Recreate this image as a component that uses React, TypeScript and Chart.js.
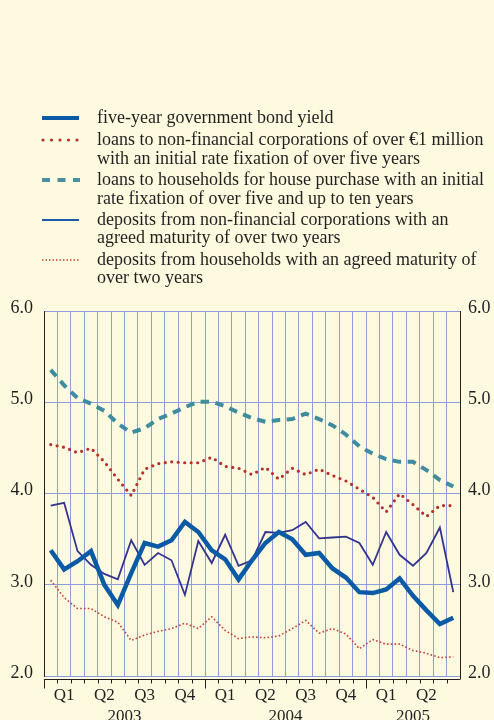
import React, { useEffect, useRef } from "react";
import { Chart, registerables } from "chart.js";

Chart.register(...registerables);

// Monthly observations, January 2003 to July 2005
const months = [
  "2003-01", "2003-02", "2003-03", "2003-04", "2003-05", "2003-06", "2003-07", "2003-08", "2003-09", "2003-10", "2003-11", "2003-12",
  "2004-01", "2004-02", "2004-03", "2004-04", "2004-05", "2004-06", "2004-07", "2004-08", "2004-09", "2004-10", "2004-11", "2004-12",
  "2005-01", "2005-02", "2005-03", "2005-04", "2005-05", "2005-06", "2005-07",
];

const bondYield = [
  3.38, 3.17, 3.26, 3.37, 3.0, 2.78, 3.13, 3.46, 3.42, 3.49, 3.69, 3.58,
  3.38, 3.28, 3.06, 3.27, 3.46, 3.58, 3.5, 3.33, 3.35, 3.18, 3.08, 2.92,
  2.91, 2.95, 3.07, 2.88, 2.72, 2.57, 2.64,
];

const loansNFC = [
  4.54, 4.51, 4.45, 4.5, 4.35, 4.16, 3.98, 4.27, 4.33, 4.35, 4.34, 4.34,
  4.4, 4.3, 4.28, 4.21, 4.29, 4.16, 4.28, 4.21, 4.27, 4.2, 4.14, 4.05,
  3.96, 3.8, 4.0, 3.88, 3.75, 3.87, 3.87,
];

const loansHH = [
  5.36, 5.19, 5.05, 4.99, 4.91, 4.77, 4.67, 4.72, 4.82, 4.88, 4.95, 5.01,
  5.01, 4.96, 4.89, 4.83, 4.79, 4.81, 4.82, 4.88, 4.82, 4.75, 4.65, 4.52,
  4.44, 4.38, 4.35, 4.35, 4.26, 4.15, 4.08,
];

const depositsNFC = [
  3.87, 3.9, 3.37, 3.22, 3.12, 3.06, 3.49, 3.22, 3.35, 3.27, 2.89, 3.48,
  3.24, 3.55, 3.21, 3.27, 3.58, 3.57, 3.6, 3.69, 3.51, 3.52, 3.53, 3.46,
  3.22, 3.58, 3.33, 3.21, 3.35, 3.63, 2.92,
];

const depositsHH = [
  3.05, 2.86, 2.74, 2.74, 2.65, 2.59, 2.39, 2.45, 2.49, 2.52, 2.58, 2.52,
  2.65, 2.5, 2.41, 2.43, 2.42, 2.44, 2.52, 2.61, 2.47, 2.52, 2.46, 2.3,
  2.4, 2.35, 2.35, 2.28, 2.25, 2.2, 2.21,
];

const quarterLabels = ["Q1", "Q2", "Q3", "Q4", "Q1", "Q2", "Q3", "Q4", "Q1", "Q2"];
const yearLabels = ["2003", "2004", "2005"];
const yMin = 2;
const yMax = 6;

const legendLabels = [
  ["five-year government bond yield"],
  ["loans to non-financial corporations of over €1 million", "with an initial rate fixation of over five years"],
  ["loans to households for house purchase with an initial", "rate fixation of over five and up to ten years"],
  ["deposits from non-financial corporations with an", "agreed maturity of over two years"],
  ["deposits from households with an agreed maturity of", "over two years"],
];

const FONT = '"Liberation Serif", "Times New Roman", serif';
const TEXT = "#231f20";
const BG = "#fdfadf";
const GRID = "#8c9ede";

const toPoints = (vals: number[]) => vals.map((v, i) => ({ x: i + 0.5, y: v }));

const overlayPlugin = {
  id: "overlay",
  afterDraw(chart: any) {
    const ctx = chart.ctx;
    const xs = chart.scales.x;
    const area = chart.chartArea;
    ctx.save();

    // legend
    const legendX = 42;
    const legendW = 37;
    const textX = 97;
    const baselines = [[123], [145, 164], [185, 204], [225, 243], [265, 283]];
    ctx.font = `18px ${FONT}`;
    ctx.fillStyle = TEXT;
    ctx.textBaseline = "alphabetic";
    ctx.textAlign = "left";
    legendLabels.forEach((lines, i) => {
      lines.forEach((t, j) => ctx.fillText(t, textX, baselines[i][j]));
    });
    const sy = baselines.map((b) => b[0] - 5);
    // symbol 1: thick solid
    ctx.lineCap = "butt";
    ctx.setLineDash([]);
    ctx.strokeStyle = "#0b5aa6";
    ctx.lineWidth = 4;
    ctx.beginPath();
    ctx.moveTo(legendX, sy[0]);
    ctx.lineTo(legendX + legendW, sy[0]);
    ctx.stroke();
    // symbol 2: dots
    ctx.fillStyle = "#b5302e";
    for (let k = 0; k < 5; k++) {
      ctx.beginPath();
      ctx.arc(legendX + 1 + k * 8.5, sy[1], 1.6, 0, Math.PI * 2);
      ctx.fill();
    }
    // symbol 3: dashes
    ctx.strokeStyle = "#4a8fa0";
    ctx.lineWidth = 4;
    ctx.setLineDash([8, 7.5]);
    ctx.beginPath();
    ctx.moveTo(legendX, sy[2]);
    ctx.lineTo(legendX + legendW + 1, sy[2]);
    ctx.stroke();
    // symbol 4: thin solid
    ctx.setLineDash([]);
    ctx.strokeStyle = "#1f5aa8";
    ctx.lineWidth = 2;
    ctx.beginPath();
    ctx.moveTo(legendX, sy[3]);
    ctx.lineTo(legendX + legendW, sy[3]);
    ctx.stroke();
    // symbol 5: fine dots
    ctx.strokeStyle = "#c0403d";
    ctx.lineWidth = 1.5;
    ctx.setLineDash([1.5, 2]);
    ctx.beginPath();
    ctx.moveTo(legendX, sy[4]);
    ctx.lineTo(legendX + legendW, sy[4]);
    ctx.stroke();
    ctx.setLineDash([]);

    // bottom axis baseline and tick marks
    const baseY = area.bottom + 3.5;
    ctx.strokeStyle = TEXT;
    ctx.lineWidth = 1;
    ctx.beginPath();
    ctx.moveTo(area.left, baseY);
    ctx.lineTo(area.right, baseY);
    for (let k = 0; k <= months.length; k++) {
      const x = Math.round(xs.getPixelForValue(k)) + 0.5;
      const long = k % 12 === 0;
      if (k === months.length) {
        ctx.moveTo(x, area.bottom);
        ctx.lineTo(x, baseY);
        continue;
      }
      ctx.moveTo(x, baseY);
      ctx.lineTo(x, baseY + (long ? 9 : 4));
    }
    ctx.stroke();

    // quarter and year labels
    ctx.fillStyle = TEXT;
    ctx.font = `17px ${FONT}`;
    ctx.textAlign = "center";
    quarterLabels.forEach((q, i) => {
      ctx.fillText(q, xs.getPixelForValue(i * 3 + 1.5), 700);
    });
    yearLabels.forEach((y, i) => {
      const start = i * 12;
      const end = Math.min(start + 12, months.length);
      ctx.fillText(y, xs.getPixelForValue((start + end) / 2), 721);
    });
    ctx.restore();
  },
};

const bgPlugin = {
  id: "bg",
  beforeDraw(chart: any) {
    const ctx = chart.ctx;
    ctx.save();
    ctx.fillStyle = BG;
    ctx.fillRect(0, 0, chart.width, chart.height);
    ctx.restore();
  },
};

export default function App() {
  const ref = useRef<HTMLCanvasElement | null>(null);

  useEffect(() => {
    if (!ref.current) return;
    const chart = new Chart(ref.current, {
      type: "line",
      data: {
        datasets: [
          {
            label: "five-year government bond yield",
            data: toPoints(bondYield),
            borderColor: "#0b5aa6",
            borderWidth: 4.5,
            pointRadius: 0,
            tension: 0,
            borderJoinStyle: "miter",
          },
          {
            label: "loans to non-financial corporations",
            data: toPoints(loansNFC),
            borderColor: "#b5302e",
            borderWidth: 3.2,
            borderDash: [0, 6.5],
            borderCapStyle: "round",
            pointRadius: 0,
            tension: 0,
          },
          {
            label: "loans to households for house purchase",
            data: toPoints(loansHH),
            borderColor: "#3e8c9e",
            borderWidth: 4,
            borderDash: [8.5, 6.5],
            pointRadius: 0,
            tension: 0,
          },
          {
            label: "deposits from non-financial corporations",
            data: toPoints(depositsNFC),
            borderColor: "#33348f",
            borderWidth: 1.8,
            pointRadius: 0,
            tension: 0,
          },
          {
            label: "deposits from households",
            data: toPoints(depositsHH),
            borderColor: "#c0403d",
            borderWidth: 1.6,
            borderDash: [1.6, 2.2],
            pointRadius: 0,
            tension: 0,
          },
        ],
      },
      options: {
        animation: false,
        responsive: false,
        devicePixelRatio: 1,
        layout: { padding: { top: 311.5, left: 0, right: 0, bottom: 0 } },
        plugins: { legend: { display: false }, tooltip: { enabled: false } },
        scales: {
          x: {
            type: "linear",
            min: 0,
            max: months.length,
            ticks: { display: false, stepSize: 1, autoSkip: false },
            grid: {
              drawTicks: false,
              color: (c: any) =>
                c.tick && (c.tick.value === 0 || c.tick.value === months.length) ? "rgba(0,0,0,0)" : GRID,
              lineWidth: 1,
            },
            border: { display: false },
            afterFit: (s: any) => {
              s.height = 44;
            },
          },
          y: {
            position: "left",
            min: yMin,
            max: yMax,
            ticks: {
              stepSize: 1,
              color: TEXT,
              font: { family: FONT, size: 18 },
              padding: 11,
              labelOffset: -3,
              callback: (v: any) => Number(v).toFixed(1),
            },
            grid: { color: GRID, drawTicks: false, lineWidth: 1 },
            border: { display: true, color: TEXT, width: 1 },
            afterFit: (s: any) => {
              s.width = 44;
            },
          },
          y2: {
            position: "right",
            min: yMin,
            max: yMax,
            ticks: {
              stepSize: 1,
              color: TEXT,
              font: { family: FONT, size: 18 },
              padding: 8,
              labelOffset: -3,
              callback: (v: any) => Number(v).toFixed(1),
            },
            grid: { display: false, drawTicks: false },
            border: { display: true, color: TEXT, width: 1 },
            afterFit: (s: any) => {
              s.width = 34;
            },
          },
        },
      },
      plugins: [bgPlugin, overlayPlugin],
    } as any);
    return () => chart.destroy();
  }, []);

  return (
    <div style={{ position: "absolute", left: 0, top: 0, width: 494, height: 720, background: BG, overflow: "hidden" }}>
      <canvas ref={ref} width={494} height={720} style={{ width: 494, height: 720, display: "block" }} />
    </div>
  );
}
